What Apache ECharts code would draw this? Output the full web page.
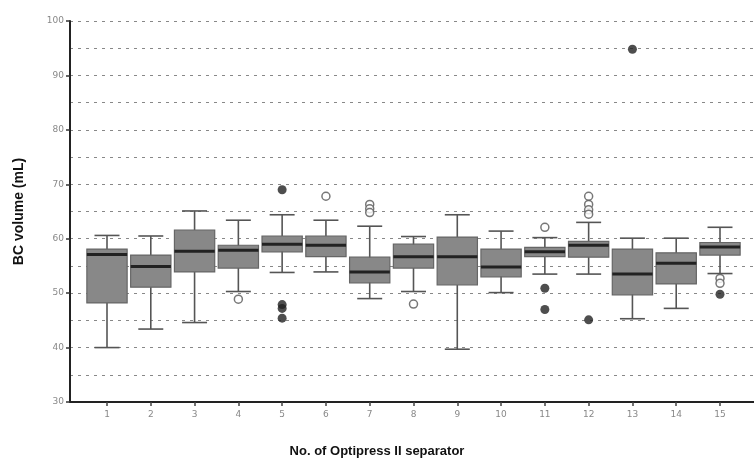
<!DOCTYPE html>
<html>
<head>
<meta charset="utf-8">
<script src="https://cdn.jsdelivr.net/npm/echarts@6/dist/echarts.min.js"></script>
<style>
html,body{margin:0;padding:0;background:#fff;}
#chart{width:754px;height:465px;}
</style>
</head>
<body>
<div id="chart"></div>
<script>
// separators 1..15
var separators = [1,2,3,4,5,6,7,8,9,10,11,12,13,14,15];
var whiskerLow  = [40.0, 43.4, 44.6, 50.3, 53.8, 53.9, 49.0, 50.3, 39.7, 50.1, 53.5, 53.5, 45.3, 47.2, 53.6];
var q1          = [48.2, 51.1, 53.9, 54.6, 57.6, 56.7, 51.9, 54.6, 51.5, 53.0, 56.7, 56.6, 49.7, 51.7, 57.0];
var median      = [57.1, 54.9, 57.7, 57.9, 59.0, 58.8, 53.9, 56.7, 56.7, 54.8, 57.6, 58.8, 53.5, 55.5, 58.5];
var q3          = [58.1, 57.0, 61.6, 58.8, 60.5, 60.5, 56.6, 59.0, 60.3, 58.1, 58.4, 59.5, 58.1, 57.4, 59.3];
var whiskerHigh = [60.6, 60.5, 65.1, 63.4, 64.4, 63.4, 62.3, 60.4, 64.4, 61.4, 60.2, 63.0, 60.1, 60.1, 62.1];

// outliers: [separator, value]
var circleOutliers = [[4,48.9],[6,67.8],[7,66.3],[7,65.5],[7,64.8],[8,48.0],[11,62.1],
                      [12,67.8],[12,66.3],[12,65.3],[12,64.5],[15,52.7],[15,51.8]];
var starOutliers = [[5,69.0],[5,47.9],[5,47.2],[5,45.4],[11,50.9],[11,47.0],[12,45.1],[13,94.8],[15,49.8]];

var boxData = separators.map(function (s, i) {
  return [s, whiskerLow[i], q1[i], median[i], q3[i], whiskerHigh[i]];
});

function renderBox(params, api) {
  var x = api.value(0);
  var lo = api.coord([x, api.value(1)]);
  var b1 = api.coord([x, api.value(2)]);
  var md = api.coord([x, api.value(3)]);
  var b3 = api.coord([x, api.value(4)]);
  var hi = api.coord([x, api.value(5)]);
  var bw = api.size([1, 0])[0] * 0.92;
  var cw = bw * 0.62;
  var cx = lo[0];
  var lineStyle = {stroke: '#555', lineWidth: 1.6};
  return {
    type: 'group',
    children: [
      {type: 'line', shape: {x1: cx, y1: hi[1], x2: cx, y2: lo[1]}, style: lineStyle},
      {type: 'line', shape: {x1: cx - cw / 2, y1: hi[1], x2: cx + cw / 2, y2: hi[1]}, style: lineStyle},
      {type: 'line', shape: {x1: cx - cw / 2, y1: lo[1], x2: cx + cw / 2, y2: lo[1]}, style: lineStyle},
      {type: 'rect', shape: {x: cx - bw / 2, y: b3[1], width: bw, height: b1[1] - b3[1]},
        style: {fill: '#888', stroke: '#666', lineWidth: 1.2}},
      {type: 'line', shape: {x1: cx - bw / 2, y1: md[1], x2: cx + bw / 2, y2: md[1]},
        style: {stroke: '#222', lineWidth: 3}}
    ]
  };
}

var myChart = echarts.init(document.getElementById('chart'));

var option = {
  animation: false,
  backgroundColor: '#fff',
  grid: [
    {left: 70, right: 0, top: 21, bottom: 63},
    {left: 107, right: 34, top: 21, bottom: 63}
  ],
  xAxis: [
    {
      gridIndex: 0, type: 'value', min: 0, max: 1,
      axisLine: {show: true, lineStyle: {color: '#222', width: 2}},
      axisTick: {show: false}, axisLabel: {show: false}, splitLine: {show: false}
    },
    {
      gridIndex: 1, type: 'value', min: 1, max: 15, interval: 1,
      axisLine: {show: false},
      axisTick: {show: true, length: 4, lineStyle: {color: '#444', width: 1.5}},
      axisLabel: {color: '#888', fontSize: 9, margin: 8, fontFamily: 'DejaVu Sans'},
      splitLine: {show: false}
    }
  ],
  yAxis: [
    {
      gridIndex: 0, type: 'value', min: 30, max: 100, interval: 10,
      axisLine: {show: true, lineStyle: {color: '#222', width: 2}},
      axisTick: {show: true, length: 4, lineStyle: {color: '#333', width: 1.5}},
      axisLabel: {color: '#888', fontSize: 9, margin: 6, fontFamily: 'DejaVu Sans'},
      splitLine: {show: true, lineStyle: {color: '#888', type: [3, 5], width: 1}},
      minorTick: {show: false, splitNumber: 2},
      minorSplitLine: {show: true, lineStyle: {color: '#888', type: [3, 5], width: 1}},
      name: 'BC volume (mL)', nameLocation: 'middle', nameGap: 44,
      nameTextStyle: {fontSize: 14, fontWeight: 'bold', color: '#111', fontFamily: 'Liberation Sans'}
    },
    {
      gridIndex: 1, type: 'value', min: 30, max: 100, show: false
    }
  ],
  graphic: [{
    type: 'text', left: 'center', top: 445,
    style: {text: 'No. of Optipress II separator', fontSize: 13, fontWeight: 'bold',
      fill: '#111', fontFamily: 'Liberation Sans'}
  }],
  series: [
    {
      type: 'custom', xAxisIndex: 1, yAxisIndex: 1,
      renderItem: renderBox, data: boxData,
      encode: {x: 0, y: [1, 2, 3, 4, 5]}, clip: false
    },
    {
      type: 'scatter', xAxisIndex: 1, yAxisIndex: 1, data: circleOutliers,
      symbol: 'circle', symbolSize: 8,
      itemStyle: {color: '#fff', borderColor: '#555', borderWidth: 1.5}
    },
    {
      type: 'scatter', xAxisIndex: 1, yAxisIndex: 1, data: starOutliers,
      symbol: 'circle', symbolSize: 9,
      itemStyle: {color: '#222'}
    }
  ]
};

myChart.setOption(option);
</script>
</body>
</html>
